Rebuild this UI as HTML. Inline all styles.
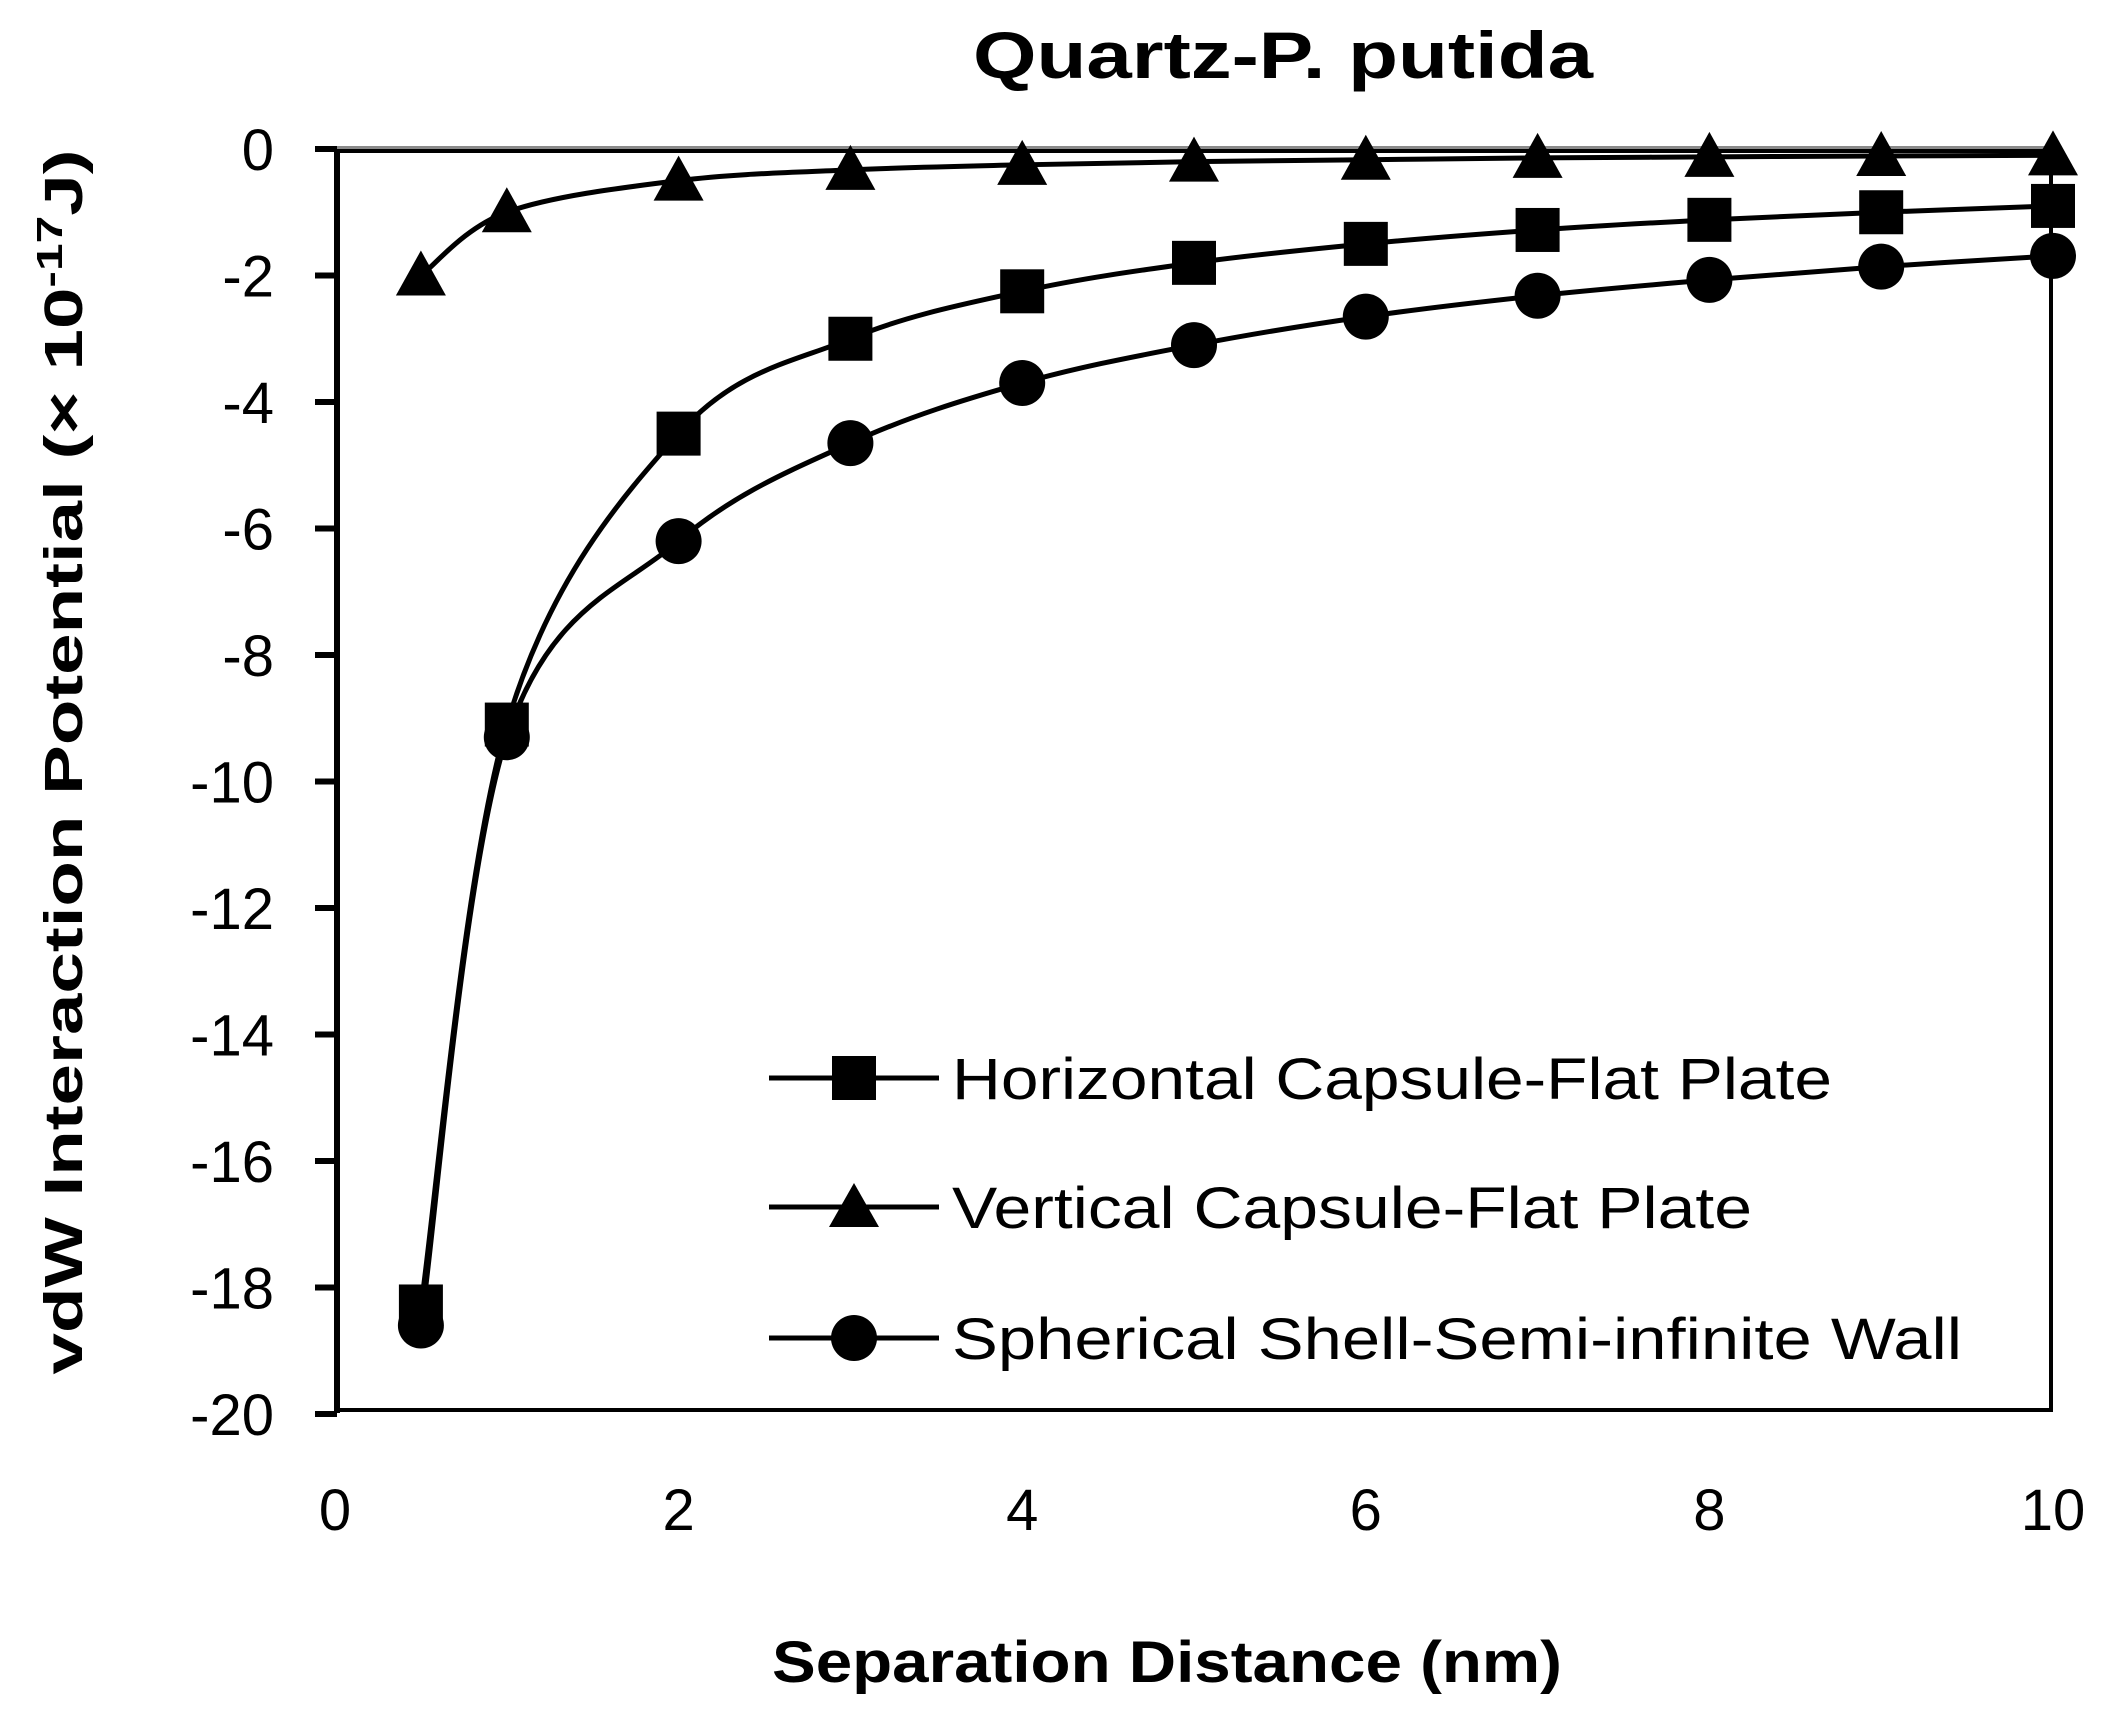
<!DOCTYPE html>
<html><head><meta charset="utf-8"><style>
html,body{margin:0;padding:0;background:#fff;}
svg{display:block;font-family:"Liberation Sans",sans-serif;}
</style></head><body>
<svg id="s" width="2120" height="1716" viewBox="0 0 2120 1716" xmlns="http://www.w3.org/2000/svg">
<rect width="2120" height="1716" fill="#fff"/>
<text x="1283" y="78" font-size="66" font-weight="bold" text-anchor="middle" textLength="620" lengthAdjust="spacingAndGlyphs">Quartz-P. putida</text>
<g id="ylabels" font-size="58" text-anchor="end"></g>
<g id="xlabels" font-size="58" text-anchor="middle"></g>
<text transform="translate(82,762) rotate(-90)" font-size="54" font-weight="bold" text-anchor="middle" textLength="1225" lengthAdjust="spacingAndGlyphs">vdW Interaction Potential (× 10<tspan baseline-shift="super" font-size="36">-17</tspan>J)</text>
<text x="1167" y="1682" font-size="58" font-weight="bold" text-anchor="middle" textLength="790" lengthAdjust="spacingAndGlyphs">Separation Distance (nm)</text>
<line x1="335" y1="149" x2="2052" y2="149" stroke="#8a8a8a" stroke-width="6"/>
<rect x="337" y="151" width="1714" height="1259" fill="none" stroke="#000" stroke-width="4"/>
<line x1="337" y1="149" x2="337" y2="1413" stroke="#000" stroke-width="6"/>
<g id="ticks" stroke="#000" stroke-width="6"></g>
<g id="series" fill="none" stroke="#000" stroke-width="5"></g>
<g id="marks" fill="#000"></g>
<g font-size="58">
<line x1="769" y1="1078" x2="939" y2="1078" stroke="#000" stroke-width="5"/>
<rect x="832" y="1056" width="44" height="44"/>
<text x="952" y="1099" textLength="880" lengthAdjust="spacingAndGlyphs">Horizontal Capsule-Flat Plate</text>
<line x1="769" y1="1207" x2="939" y2="1207" stroke="#000" stroke-width="5"/>
<polygon points="854,1183 879,1227 829,1227"/>
<text x="952" y="1228" textLength="800" lengthAdjust="spacingAndGlyphs">Vertical Capsule-Flat Plate</text>
<line x1="769" y1="1338" x2="939" y2="1338" stroke="#000" stroke-width="5"/>
<circle cx="854" cy="1338" r="23"/>
<text x="952" y="1359" textLength="1010" lengthAdjust="spacingAndGlyphs">Spherical Shell-Semi-infinite Wall</text>
</g>
</svg>
<script>
var NS="http://www.w3.org/2000/svg";
function X(v){return 335+v*171.8;}function Y(v){return 149-v*63.25;}
function el(p,t,a,txt){var e=document.createElementNS(NS,t);for(var k in a)e.setAttribute(k,a[k]);if(txt!==undefined)e.textContent=txt;document.getElementById(p).appendChild(e);return e;}
for(var v=0;v>=-20;v-=2){el("ylabels","text",{x:274,y:Y(v)+21},String(v));el("ticks","line",{x1:315,y1:Y(v),x2:337,y2:Y(v)});}
for(var v=0;v<=10;v+=2){el("xlabels","text",{x:X(v),y:1530},String(v));}
var xs=[0.5,1,2,3,4,5,6,7,8,9,10];
var sq=[-18.3,-9.1,-4.5,-3.0,-2.25,-1.8,-1.5,-1.28,-1.12,-1.0,-0.9];
var ci=[-18.6,-9.3,-6.2,-4.65,-3.7,-3.1,-2.65,-2.32,-2.07,-1.86,-1.69];
var tr=[-2.0,-1.0,-0.5,-0.33,-0.25,-0.2,-0.17,-0.14,-0.125,-0.11,-0.1];
function path(ys){var p=xs.map(function(x,i){return [X(x),Y(ys[i])];});var d="M"+p[0][0]+","+p[0][1];
for(var i=0;i<p.length-1;i++){var p0=p[i-1]||p[i],p1=p[i],p2=p[i+1],p3=p[i+2]||p2;var t=6;
d+=" C"+(p1[0]+(p2[0]-p0[0])/t)+","+(p1[1]+(p2[1]-p0[1])/t)+" "+(p2[0]-(p3[0]-p1[0])/t)+","+(p2[1]-(p3[1]-p1[1])/t)+" "+p2[0]+","+p2[1];}
el("series","path",{d:d});return p;}
path(sq).forEach(function(q){el("marks","rect",{x:q[0]-22,y:q[1]-22,width:44,height:44});});
path(tr).forEach(function(q){el("marks","polygon",{points:q[0]+","+(q[1]-25)+" "+(q[0]+25)+","+(q[1]+20)+" "+(q[0]-25)+","+(q[1]+20)});});
path(ci).forEach(function(q){el("marks","circle",{cx:q[0],cy:q[1],r:23});});
</script>
</body></html>
